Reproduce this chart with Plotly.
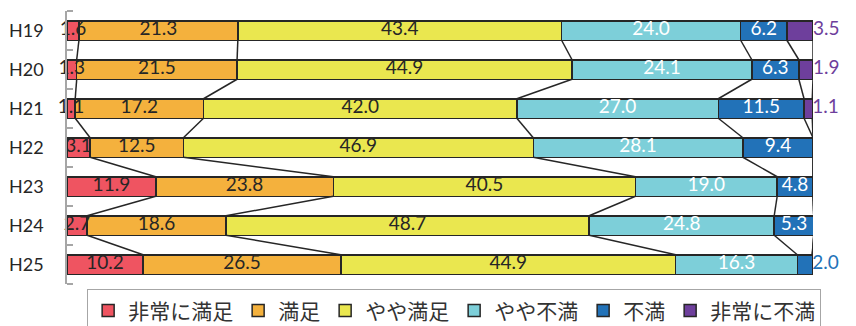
import numpy as np
import plotly.graph_objects as go

years = ["H19", "H20", "H21", "H22", "H23", "H24", "H25"]
series_names = ["非常に満足", "満足", "やや満足", "やや不満", "不満", "非常に不満"]
very_satisfied = [1.6, 1.3, 1.1, 3.1, 11.9, 2.7, 10.2]
satisfied = [21.3, 21.5, 17.2, 12.5, 23.8, 18.6, 26.5]
somewhat_satisfied = [43.4, 44.9, 42.0, 46.9, 40.5, 48.7, 44.9]
somewhat_dissatisfied = [24.0, 24.1, 27.0, 28.1, 19.0, 24.8, 16.3]
dissatisfied = [6.2, 6.3, 11.5, 9.4, 4.8, 5.3, 2.0]
very_dissatisfied = [3.5, 1.9, 1.1, 0.0, 0.0, 0.0, 0.0]

colors = ["#EF5461", "#F4B13D", "#EAE74F", "#7DCFD9", "#2272B8", "#6E3F9C"]
text_colors = ["#262626", "#262626", "#262626", "#FFFFFF", "#FFFFFF", "#6E3F9C"]

series = [very_satisfied, satisfied, somewhat_satisfied,
          somewhat_dissatisfied, dissatisfied, very_dissatisfied]
vals = np.array(series, dtype=float)  # shape (6, 7)
cum = np.round(np.cumsum(vals, axis=0), 6)
pos = np.arange(len(years))
half = 0.25
outline = "#262626"

fig = go.Figure()

# connector lines between bars
for k in range(len(series)):
    xs, ys = [], []
    for i in range(len(years) - 1):
        xs += [cum[k, i], cum[k, i + 1], None]
        ys += [pos[i] + half, pos[i + 1] - half, None]
    fig.add_trace(go.Scatter(x=xs, y=ys, mode="lines",
                             line=dict(color=outline, width=1.5),
                             showlegend=False, hoverinfo="skip"))

for k, name in enumerate(series_names):
    fig.add_trace(go.Bar(
        x=vals[k], y=pos, orientation="h", name=name, width=0.5,
        marker=dict(color=colors[k], line=dict(color=outline, width=1.5)),
        hoverinfo="skip"))

# labels
in_x, in_y, in_t, in_c = [], [], [], []
out_x, out_y, out_t, out_c = [], [], [], []
for k in range(len(series)):
    for i in range(len(years)):
        v = vals[k, i]
        if v <= 0:
            continue
        outside = (k == 5) or (k == 4 and v < 3)
        if outside:
            out_x.append(min(cum[-1, i], 100.0)); out_y.append(pos[i])
            out_t.append(f"{v:.1f}"); out_c.append(colors[k])
        else:
            in_x.append(cum[k, i] - v / 2); in_y.append(pos[i])
            in_t.append(f"{v:.1f}"); in_c.append(text_colors[k])

fig.add_trace(go.Scatter(x=in_x, y=in_y, mode="text", text=in_t,
                         textposition="middle center",
                         textfont=dict(family="Lato", size=19, color=in_c),
                         showlegend=False, hoverinfo="skip", cliponaxis=False))
fig.add_trace(go.Scatter(x=out_x, y=out_y, mode="text", text=out_t,
                         textposition="middle right",
                         textfont=dict(family="Lato", size=19, color=out_c),
                         showlegend=False, hoverinfo="skip", cliponaxis=False))

# the page body adds an 8px offset, so the figure is drawn 8px smaller
fig.update_layout(
    width=848, height=318,
    margin=dict(l=59, r=43, t=3, b=42, autoexpand=False),
    barmode="stack",
    plot_bgcolor="white", paper_bgcolor="white",
    showlegend=True,
    legend=dict(orientation="h", x=0.027, xanchor="left", y=-0.02, yanchor="top",
                font=dict(family="Noto Sans CJK JP", size=21, color="#333333"),
                bordercolor="#A6A6A6", borderwidth=1, bgcolor="white",
                traceorder="normal", tracegroupgap=0),
)
fig.update_xaxes(range=[0, 100], showgrid=False, zeroline=False, automargin=False,
                 showticklabels=False, showline=False, ticks="")
fig.update_yaxes(range=[6.5, -0.5], tickvals=list(pos), ticktext=years,
                 showgrid=False, zeroline=False, ticks="", automargin=False,
                 showline=True, linecolor="#A6A6A6", linewidth=1.5,
                 tickfont=dict(family="Lato", size=18, color="#262626"),
                 ticklabelstandoff=18,
                 minor=dict(tickvals=[p - 0.5 for p in pos] + [6.5], ticks="inside",
                            ticklen=6, tickcolor="#A6A6A6", tickwidth=1.5))

fig.write_html("out.html")
